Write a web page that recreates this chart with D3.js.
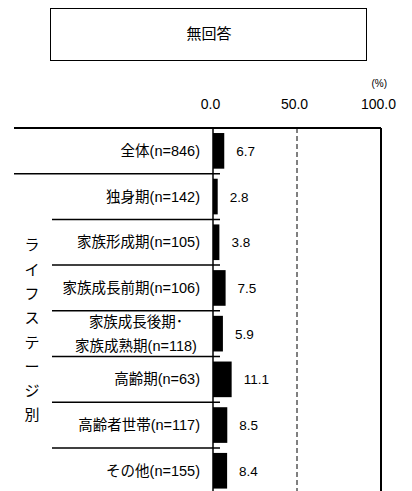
<!DOCTYPE html>
<html>
<head>
<meta charset="utf-8">
<script src="https://cdn.jsdelivr.net/npm/d3@7"></script>
<style>
  body { margin: 0; background: #fff; }
  svg { display: block; font-family: "Liberation Sans", Arial, "Noto Sans CJK JP", sans-serif; }
</style>
</head>
<body>
<div id="wrapper"></div>
<script>
const title = "無回答"
const groupLabel = "ライフステージ別"
const categories = ["全体(n=846)", "独身期(n=142)", "家族形成期(n=105)", "家族成長前期(n=106)",
    "家族成長後期･\n家族成熟期(n=118)", "高齢期(n=63)", "高齢者世帯(n=117)", "その他(n=155)"]
const values = [6.7, 2.8, 3.8, 7.5, 5.9, 11.1, 8.5, 8.4]
const tickValues = [0, 50, 100]

function drawChart() {
    const dimensions = {
        width: 412,
        height: 491,
        top: 128,
        rowHeight: 45.7,
    }

    const svg = d3.select("#wrapper")
        .append("svg")
        .attr("width", dimensions.width)
        .attr("height", dimensions.height)

    // scales
    const xScale = d3.scaleLinear()
        .domain([0, 100])
        .range([213, 381])

    const yScale = d3.scaleBand()
        .domain(categories)
        .range([dimensions.top, dimensions.top + dimensions.rowHeight * categories.length])

    // title box
    svg.append("rect")
        .attr("x", 50.5).attr("y", 8.5)
        .attr("width", 316).attr("height", 52)
        .attr("fill", "none").attr("stroke", "#000").attr("stroke-width", 1)
    svg.append("text")
        .attr("x", 209).attr("y", 39)
        .attr("text-anchor", "middle")
        .attr("font-size", 15)
        .text(title)

    svg.append("text")
        .attr("x", 387).attr("y", 87)
        .attr("text-anchor", "end")
        .attr("font-size", 10)
        .text("(%)")

    // axis labels
    const xAxis = svg.append("g")
        .attr("transform", "translate(0,109)")
        .call(d3.axisTop(xScale).tickValues(tickValues).tickSize(0).tickPadding(0).tickFormat(d3.format(".1f")))
    xAxis.select(".domain").remove()
    xAxis.selectAll("text")
        .attr("font-size", 14)
        .attr("font-family", "Liberation Sans, Arial, sans-serif")
        .attr("dx", -3)

    // frame lines
    const bottom = dimensions.height + 5
    svg.append("line")
        .attr("x1", 14).attr("x2", xScale(100))
        .attr("y1", dimensions.top).attr("y2", dimensions.top)
        .attr("stroke", "#000").attr("stroke-width", 2)
    svg.append("line")
        .attr("x1", xScale(100)).attr("x2", xScale(100))
        .attr("y1", dimensions.top).attr("y2", bottom)
        .attr("stroke", "#000").attr("stroke-width", 2)
    svg.append("line")
        .attr("x1", xScale(50)).attr("x2", xScale(50))
        .attr("y1", dimensions.top).attr("y2", bottom)
        .attr("stroke", "#000").attr("stroke-width", 1)
        .attr("stroke-dasharray", "5,3")

    // row separators
    svg.selectAll(".sep")
        .data(categories.slice(1))
        .join("line")
        .attr("class", "sep")
        .attr("x1", (d, i) => i === 0 ? 14 : 52)
        .attr("x2", xScale(0) + 7)
        .attr("y1", d => yScale(d))
        .attr("y2", d => yScale(d))
        .attr("stroke", "#000").attr("stroke-width", 1.5)

    // bars
    const barH = yScale.bandwidth() * 0.78
    svg.selectAll(".bar")
        .data(values)
        .join("rect")
        .attr("class", "bar")
        .attr("x", xScale(0))
        .attr("y", (d, i) => yScale(categories[i]) + (yScale.bandwidth() - barH) / 2)
        .attr("width", d => xScale(d) - xScale(0))
        .attr("height", barH)
        .attr("fill", "#000")

    // zero line
    svg.append("line")
        .attr("x1", xScale(0)).attr("x2", xScale(0))
        .attr("y1", dimensions.top).attr("y2", bottom)
        .attr("stroke", "#000").attr("stroke-width", 1.5)

    // value labels
    svg.selectAll(".value")
        .data(values)
        .join("text")
        .attr("class", "value")
        .attr("x", d => xScale(d) + 12)
        .attr("y", (d, i) => yScale(categories[i]) + yScale.bandwidth() / 2 + 5)
        .attr("font-size", 13.5)
        .text(d => d.toFixed(1))

    // category labels
    const catLabels = svg.selectAll(".cat")
        .data(categories)
        .join("text")
        .attr("class", "cat")
        .attr("font-size", 14.5)
        .attr("y", d => yScale(d) + yScale.bandwidth() / 2 + 5)

    catLabels.filter(d => !d.includes("\n"))
        .attr("x", 200)
        .attr("text-anchor", "end")
        .text(d => d)

    catLabels.filter(d => d.includes("\n"))
        .attr("text-anchor", "middle")
        .each(function(d) {
            const lines = d.split("\n")
            d3.select(this).selectAll("tspan")
                .data(lines)
                .join("tspan")
                .attr("x", 136)
                .attr("dy", (l, i) => i === 0 ? -12 : 24)
                .text(l => l)
        })

    // vertical group label
    const chars = Array.from(groupLabel)
    const groupCenter = (yScale(categories[1]) + dimensions.height) / 2 - 2
    svg.append("g")
        .selectAll("text")
        .data(chars)
        .join("text")
        .attr("x", 32)
        .attr("y", (d, i) => groupCenter + (i - (chars.length - 1) / 2) * 24.3 + 5)
        .attr("text-anchor", "middle")
        .attr("font-size", 15)
        .text(d => d)
}

drawChart()
</script>
</body>
</html>
